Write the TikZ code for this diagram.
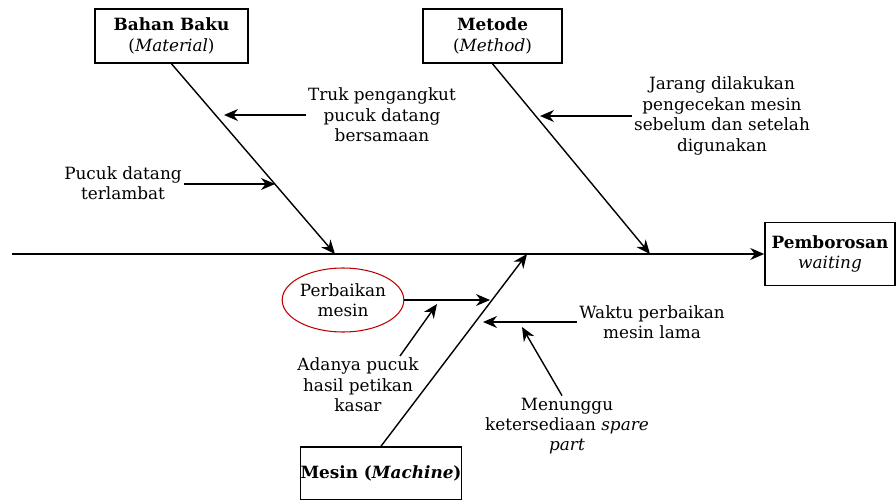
\documentclass[tikz,border=0pt]{standalone}
\usepackage{fontspec}
\setmainfont{DejaVu Serif}
\usetikzlibrary{calc, arrows.meta, shapes.geometric}

\begin{document}
\begin{tikzpicture}[x=0.02cm, y=-0.02cm,
    font=\fontsize{9.6}{11.6}\selectfont,
    box/.style={draw, line width=0.9pt, align=center, inner sep=0pt},
    cause/.style={align=center, inner sep=1pt},
    bone/.style={line width=0.8pt, -{Stealth[length=2.8mm, width=2.4mm]}},
    arr/.style={line width=0.8pt, -{Stealth[length=2.8mm, width=2.4mm]}}]

  \useasboundingbox (0,0) rectangle (896,500);

  % category boxes
  \node[box, minimum width=3.06cm, minimum height=1.08cm] (material) at (171.5,36)
    {\textbf{Bahan Baku}\\(\textit{Material})};
  \node[box, minimum width=2.78cm, minimum height=1.08cm] (method) at (492.5,36)
    {\textbf{Metode}\\(\textit{Method})};
  \node[box, minimum width=3.2cm, minimum height=1.06cm] (machine) at (381,473.5)
    {\textbf{Mesin (\textit{Machine})}};

  % effect box
  \node[box, minimum width=2.6cm, minimum height=1.26cm] (effect) at (830,254)
    {\textbf{Pemborosan}\\\textit{waiting}};

  % spine
  \coordinate (tail) at (12,254);
  \draw[bone] (tail) -- (effect.west);

  % bones
  \coordinate (matT) at (335,254);
  \coordinate (metT) at (650,254);
  \coordinate (macT) at (527,254);
  \draw[bone] (material.south) -- (matT);
  \draw[bone] (method.south) -- (metT);
  \draw[bone] (machine.north) -- (macT);

  % material causes
  \node[cause] (truk) at (382,115) {Truk pengangkut\\pucuk datang\\bersamaan};
  \node[cause] (telat) at (123,183) {Pucuk datang\\terlambat};
  \coordinate (m1) at (224,115);
  \coordinate (m2) at (275,184);
  \draw[arr] (truk.west) -- (m1);
  \draw[arr] (telat.east |- m2) -- (m2);

  % method causes
  \node[cause] (jarang) at (722,116)
    {Jarang dilakukan\\pengecekan mesin\\sebelum dan setelah\\digunakan};
  \coordinate (k1) at (540,116);
  \draw[arr] (jarang.west) -- (k1);

  % machine causes
  \node[draw=red!75!black, ellipse, line width=0.6pt, align=center,
        minimum width=2.4cm, minimum height=1.28cm, inner sep=0pt] (perb) at (343,300)
    {Perbaikan\\mesin};
  \coordinate (s1) at (490,300);
  \draw[arr] (perb.east) -- (s1);

  \node[cause] (adanya) at (358,385) {Adanya pucuk\\hasil petikan\\kasar};
  \coordinate (s2) at (437,304);
  \draw[arr] ([xshift=0.84cm]adanya.north) -- (s2);

  \node[cause] (waktu) at (652,322) {Waktu perbaikan\\mesin lama};
  \coordinate (s3) at (483,322);
  \draw[arr] (waktu.west) -- (s3);

  \node[cause] (tunggu) at (567,426) {Menunggu\\ketersediaan \textit{spare}\\\textit{part}};
  \coordinate (s4) at (522,327);
  \draw[arr] ([xshift=-0.1cm]tunggu.north) -- (s4);

\end{tikzpicture}
\end{document}
